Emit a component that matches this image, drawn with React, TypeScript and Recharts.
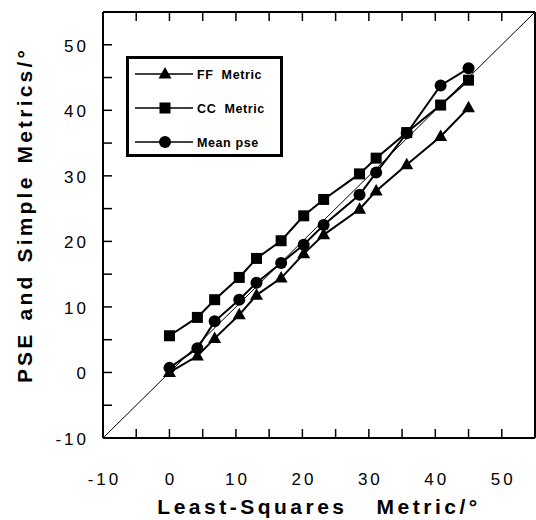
import React from 'react';
import { LineChart, Line, XAxis, YAxis, ReferenceLine, Legend } from 'recharts';

// Least-squares metric (x) shared by all three series
const leastSquares = [0, 4.2, 6.8, 10.5, 13.1, 16.8, 20.2, 23.2, 28.6, 31.1, 35.7, 40.8, 45.0];
const ffMetric = [0.0, 2.5, 5.2, 8.8, 11.8, 14.4, 18.1, 21.0, 24.9, 27.7, 31.7, 36.0, 40.4];
const ccMetric = [5.6, 8.4, 11.1, 14.5, 17.4, 20.1, 23.9, 26.4, 30.3, 32.7, 36.6, 40.8, 44.6];
const meanPse = [0.7, 3.7, 7.8, 11.1, 13.7, 16.7, 19.5, 22.5, 27.1, 30.5, 36.5, 43.8, 46.4];

const axisTicks = [-10, -5, 0, 5, 10, 15, 20, 25, 30, 35, 40, 45, 50];
const labelTicks = [-10, 0, 10, 20, 30, 40, 50];
const seriesOrder = ['ff', 'cc', 'pse'];
const seriesNames = { ff: 'FF  Metric', cc: 'CC  Metric', pse: 'Mean pse' };
const xTitle = ['Least-Squares', 'Metric/\u00B0'];
const yTitle = ['PSE', 'and', 'Simple', 'Metrics/\u00B0'];

const data = leastSquares.map((x, i) => ({ x, ff: ffMetric[i], cc: ccMetric[i], pse: meanPse[i] }));

const FONT = 'Liberation Sans, Arial, Helvetica, sans-serif';
const TICK = 9;

const Marker = ({ kind, cx, cy }: { kind: string; cx: number; cy: number }) => {
  if (kind === 'ff') {
    return <polygon points={`${cx},${cy - 7} ${cx - 6.5},${cy + 4.5} ${cx + 6.5},${cy + 4.5}`} fill="#000" />;
  }
  if (kind === 'cc') {
    return <rect x={cx - 5.5} y={cy - 5.5} width={11} height={11} fill="#000" />;
  }
  return <circle cx={cx} cy={cy} r={6} fill="#000" />;
};

const makeDot = (kind: string) => (p: any) => (
  <Marker key={`${kind}-${p.index}`} kind={kind} cx={p.cx} cy={p.cy} />
);

const BottomTick = (props: any) => {
  const { x, y, payload } = props;
  const v = payload.value;
  return (
    <g>
      {v !== -10 && <line x1={x} y1={y} x2={x} y2={y - TICK} stroke="#000" strokeWidth={1.5} />}
      {labelTicks.includes(v) && (
        <text x={x + 1.5} y={y + 47} textAnchor="middle" fontFamily={FONT} fontSize={17} letterSpacing={3} fill="#000">
          {String(v)}
        </text>
      )}
    </g>
  );
};

const TopTick = (props: any) => {
  const { x, y, payload } = props;
  if (payload.value === -10) return <g />;
  return <line x1={x} y1={y} x2={x} y2={y + TICK} stroke="#000" strokeWidth={1.5} />;
};

const LeftTick = (props: any) => {
  const { x, y, payload } = props;
  const v = payload.value;
  return (
    <g>
      {v !== -10 && <line x1={x} y1={y} x2={x + TICK} y2={y} stroke="#000" strokeWidth={1.5} />}
      {labelTicks.includes(v) && (
        <text x={x - 14} y={y + 7} textAnchor="end" fontFamily={FONT} fontSize={17} letterSpacing={3} fill="#000">
          {String(v)}
        </text>
      )}
    </g>
  );
};

const RightTick = (props: any) => {
  const { x, y, payload } = props;
  if (payload.value === -10) return <g />;
  return <line x1={x} y1={y} x2={x - TICK} y2={y} stroke="#000" strokeWidth={1.5} />;
};

const XTitle = (props: any) => {
  const vb = props.viewBox;
  return (
    <text x={vb.x + vb.width / 2} y={vb.y + 76} textAnchor="middle" fontFamily={FONT} fontWeight="bold" fontSize={21} letterSpacing={3.5} fill="#000">
      <tspan>{xTitle[0]}</tspan>
      <tspan dx={29}>{xTitle[1]}</tspan>
    </text>
  );
};

const YTitle = (props: any) => {
  const vb = props.viewBox;
  const x = vb.x + 32;
  const y = vb.y + vb.height / 2 - 10;
  return (
    <text x={x} y={y} transform={`rotate(-90, ${x}, ${y})`} textAnchor="middle" fontFamily={FONT} fontWeight="bold" fontSize={21} letterSpacing={3.2} fill="#000">
      {yTitle.map((w, i) => (
        <tspan key={w} dx={i === 0 ? 0 : 11}>{w}</tspan>
      ))}
    </text>
  );
};

const LegendBox = (props: any) => {
  const payload = [...(props.payload || [])].sort(
    (a: any, b: any) => seriesOrder.indexOf(String(a.dataKey)) - seriesOrder.indexOf(String(b.dataKey))
  );
  return (
    <svg width={157} height={101} style={{ display: 'block' }}>
      <rect x={1.5} y={1.5} width={154} height={98} fill="#fff" stroke="#000" strokeWidth={3} />
      {payload.map((entry: any, i: number) => {
        const cy = 18 + i * 34;
        const kind = String(entry.dataKey);
        return (
          <g key={kind}>
            <line x1={9} y1={cy} x2={67} y2={cy} stroke="#000" strokeWidth={1.5} />
            <Marker kind={kind} cx={39} cy={cy} />
            <text
              x={71}
              y={cy + 4.5}
              fontFamily={FONT}
              fontSize={12.5}
              fontWeight="bold"
              letterSpacing={0.6}
              fill="#000"
              style={{ whiteSpace: 'pre' }}
            >
              {entry.value}
            </text>
          </g>
        );
      })}
    </svg>
  );
};

export default function App() {
  return (
    <div style={{ position: 'absolute', left: 0, top: 0 }}>
      <LineChart width={536} height={520} data={data} margin={{ top: 0, right: 0, bottom: 0, left: 0 }}>
        <XAxis
          dataKey="x"
          type="number"
          domain={[-10, 55]}
          ticks={axisTicks}
          interval={0}
          height={82}
          tickSize={0}
          tickMargin={0}
          tickLine={false}
          axisLine={{ stroke: '#000', strokeWidth: 2 }}
          tick={<BottomTick />}
          label={<XTitle />}
        />
        <XAxis
          xAxisId="top"
          orientation="top"
          dataKey="x"
          type="number"
          domain={[-10, 55]}
          ticks={axisTicks}
          interval={0}
          height={12}
          tickSize={0}
          tickMargin={0}
          tickLine={false}
          axisLine={{ stroke: '#000', strokeWidth: 2 }}
          tick={<TopTick />}
        />
        <YAxis
          type="number"
          domain={[-10, 55]}
          ticks={axisTicks}
          interval={0}
          width={103}
          tickSize={0}
          tickMargin={0}
          tickLine={false}
          axisLine={{ stroke: '#000', strokeWidth: 2 }}
          tick={<LeftTick />}
          label={<YTitle />}
        />
        <YAxis
          yAxisId="right"
          orientation="right"
          type="number"
          domain={[-10, 55]}
          ticks={axisTicks}
          interval={0}
          width={1}
          tickSize={0}
          tickMargin={0}
          tickLine={false}
          axisLine={{ stroke: '#000', strokeWidth: 2 }}
          tick={<RightTick />}
        />
        <ReferenceLine
          segment={[{ x: -10, y: -10 }, { x: 55, y: 55 }]}
          stroke="#000"
          strokeWidth={1}
          ifOverflow="visible"
        />
        <Line dataKey="ff" name={seriesNames.ff} stroke="#000" strokeWidth={2} dot={makeDot('ff')} isAnimationActive={false} />
        <Line dataKey="cc" name={seriesNames.cc} stroke="#000" strokeWidth={2} dot={makeDot('cc')} isAnimationActive={false} />
        <Line dataKey="pse" name={seriesNames.pse} stroke="#000" strokeWidth={2} dot={makeDot('pse')} isAnimationActive={false} />
        <Legend
          layout="vertical"
          align="center"
          verticalAlign="middle"
          content={<LegendBox />}
          wrapperStyle={{ left: 126, top: 56, width: 157, height: 101 }}
        />
      </LineChart>
    </div>
  );
}
